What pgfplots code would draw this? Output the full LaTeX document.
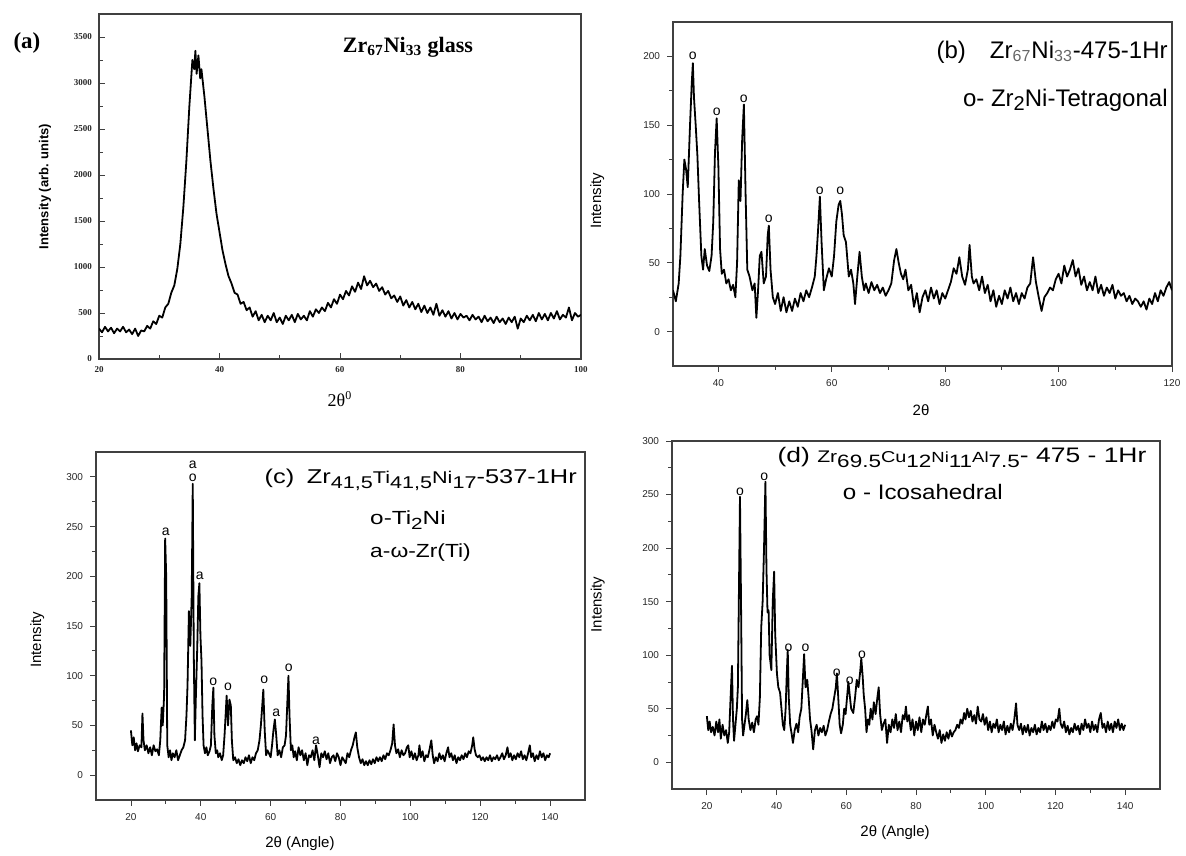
\documentclass[border=0pt]{standalone}
\usepackage{graphicx}
\usepackage{pgfplots}
\pgfplotsset{compat=1.18}
\usepackage{fontspec}
\setmainfont{Liberation Sans}
\newfontfamily\serif{Liberation Serif}

% lowered, slightly reduced index as used in the composition labels
\newcommand\lo[1]{\raisebox{-0.45ex}{\scalebox{0.85}{#1}}}
% wide-set caption text
\newcommand\wide[2]{\scalebox{#1}[1]{#2}}

\pgfplotsset{
  xrdpanel/.style={
    scale only axis,
    anchor=south west,
    axis line style={black!75, line width=0.6pt},
    tick style={black!75, line width=0.4pt},
    major tick length=3pt,
    minor tick length=1.8pt,
    tick align=outside,
    xtick pos=bottom, ytick pos=left,
    minor x tick num=1, minor y tick num=1,
    /pgf/number format/assume math mode=true,
    /pgf/number format/set thousands separator={},
    ticklabel style={font=\fontsize{5}{6}\selectfont, black!85},
    label style={font=\fontsize{7.5}{8}\selectfont},
    ylabel style={anchor=center},
    xlabel style={anchor=center},
  },
}
\tikzset{
  trace/.style={black, line width=0.9pt, line join=round},
  pk/.style={font=\fontsize{7}{7}\selectfont, inner sep=0pt, anchor=south},
}

\begin{document}
\begin{tikzpicture}
\useasboundingbox (0,0) rectangle (593pt,427.5pt);

%% (a) amorphous Zr67Ni33
\begin{axis}[xrdpanel,
  at={(49.5pt,248pt)}, width=241pt, height=172.5pt,
  xmin=20, xmax=100, ymin=0, ymax=3750,
  xtick={20,40,...,100}, ytick={0,500,...,3500},
  tick align=inside,
  ticklabel style={font=\serif\bfseries\fontsize{4.5}{5}\selectfont},
  ylabel={\bfseries\fontsize{6.5}{7}\selectfont Intensity (arb. units)},
  ylabel style={at={(axis description cs:-0.112,0.5)}},
  xlabel={\serif\fontsize{9}{10}\selectfont 2θ\textsuperscript{0}},
  xlabel style={at={(axis description cs:0.5,-0.116)}},
]
\addplot[trace] coordinates {
(20,330)(20.5,290)(21,350)(21.5,300)(22,340)(22.5,280)(23,330)(23.5,300)(24,350)(24.5,290)
(25,320)(25.5,270)(26,330)(26.5,250)(27,310)(27.5,300)(28,360)(28.5,330)(29,410)(29.5,380)
(30,470)(30.5,450)(31,560)(31.5,600)(32,720)(32.5,800)(33,980)(33.5,1250)(34,1650)(34.5,2150)
(35,2750)(35.5,3250)(35.8,3150)(36,3350)(36.2,3100)(36.5,3300)(36.8,3050)(37,3150)(37.5,2850)
(38,2500)(38.5,2150)(39,1850)(39.5,1580)(40,1380)(40.5,1180)(41,1030)(41.5,900)(42,820)
(42.5,720)(43,700)(43.5,600)(44,620)(44.5,530)(45,560)(45.5,460)(46,520)(46.5,420)(47,480)
(47.5,400)(48,470)(48.5,420)(49,500)(49.5,400)(50,450)(50.5,380)(51,470)(51.5,420)(52,480)
(52.5,400)(53,490)(53.5,430)(54,470)(54.5,420)(55,520)(55.5,460)(56,540)(56.5,500)(57,560)
(57.5,520)(58,610)(58.5,560)(59,650)(59.5,600)(60,700)(60.5,650)(61,740)(61.5,690)(62,790)
(62.5,730)(63,830)(63.5,760)(64,900)(64.5,800)(65,850)(65.5,780)(66,820)(66.5,740)(67,780)
(67.5,700)(68,740)(68.5,660)(69,690)(69.5,620)(70,680)(70.5,580)(71,640)(71.5,560)(72,620)
(72.5,540)(73,600)(73.5,510)(74,580)(74.5,500)(75,560)(75.5,480)(76,600)(76.5,470)(77,530)
(77.5,460)(78,520)(78.5,440)(79,500)(79.5,430)(80,490)(80.5,450)(81,470)(81.5,420)(82,480)
(82.5,430)(83,460)(83.5,400)(84,470)(84.5,410)(85,450)(85.5,390)(86,460)(86.5,400)(87,440)
(87.5,380)(88,450)(88.5,400)(89,460)(89.5,330)(90,440)(90.5,400)(91,470)(91.5,420)(92,480)
(92.5,410)(93,500)(93.5,430)(94,490)(94.5,420)(95,500)(95.5,440)(96,520)(96.5,430)(97,480)
(97.5,450)(98,560)(98.5,420)(99,500)(99.5,460)(100,480)
};
\node[font=\serif\bfseries\fontsize{11}{12}\selectfont] at (axis description cs:0.641,0.904)
  {Zr\textsubscript{67}Ni\textsubscript{33} glass};
\end{axis}
\node[font=\serif\bfseries\fontsize{11.5}{12}\selectfont] at (13.5pt,406pt) {(a)};

%% (b) Zr67Ni33 annealed 475, 1 h
\begin{axis}[xrdpanel,
  at={(336.5pt,244.5pt)}, width=249.5pt, height=172pt,
  xmin=32, xmax=120, ymin=-25, ymax=225,
  xtick={40,60,...,120}, ytick={0,50,...,200},
  ylabel={Intensity},
  ylabel style={at={(axis description cs:-0.152,0.48)}},
  xlabel={2θ},
  xlabel style={at={(axis description cs:0.497,-0.128)}},
]
\addplot[trace] coordinates {
(32,30)(32.5,22)(33,35)(33.3,55)(33.7,100)(34,125)(34.3,118)(34.6,105)(35,150)(35.3,180)
(35.5,195)(35.7,170)(36,150)(36.3,128)(36.6,95)(37,55)(37.3,45)(37.6,60)(38,48)(38.4,44)
(38.8,55)(39.1,80)(39.4,130)(39.7,155)(40,120)(40.3,60)(40.6,42)(41,45)(41.4,35)(41.8,38)
(42.2,30)(42.6,34)(43,25)(43.3,50)(43.6,110)(43.9,95)(44.2,140)(44.5,165)(44.8,100)(45.1,45)
(45.5,40)(46,30)(46.4,35)(46.7,10)(47,30)(47.3,55)(47.6,58)(48,35)(48.4,40)(48.7,70)
(48.9,77)(49.2,45)(49.6,25)(50,20)(50.5,28)(51,15)(51.5,25)(52,14)(52.5,22)(53,15)
(53.5,24)(54,18)(54.5,28)(55,22)(55.5,30)(56,25)(56.5,32)(57,40)(57.3,55)(57.6,75)
(57.9,98)(58.2,65)(58.6,30)(59,38)(59.5,46)(60,40)(60.4,55)(60.8,80)(61.2,92)(61.5,95)
(61.8,85)(62.1,70)(62.5,65)(63,40)(63.4,45)(63.8,35)(64.1,20)(64.5,40)(64.9,58)(65.3,40)
(65.7,30)(66,35)(66.5,28)(67,36)(67.5,30)(68,34)(68.5,28)(69,32)(69.5,26)(70,30)
(70.5,35)(71,52)(71.4,60)(71.8,50)(72.2,42)(72.6,38)(73,45)(73.5,30)(74,34)(74.5,18)
(75,28)(75.5,14)(76,25)(76.5,30)(77,22)(77.5,32)(78,24)(78.5,30)(79,20)(79.5,28)
(80,24)(80.5,30)(81,36)(81.5,46)(82,42)(82.5,54)(83,40)(83.5,34)(84,45)(84.3,63)
(84.7,40)(85,35)(85.5,38)(86,30)(86.5,40)(87,28)(87.5,34)(88,22)(88.5,30)(89,18)
(89.5,26)(90,20)(90.5,30)(91,24)(91.5,32)(92,22)(92.5,28)(93,20)(93.5,28)(94,24)
(94.5,32)(95,35)(95.5,54)(96,36)(96.5,25)(97,15)(97.5,25)(98,28)(98.5,32)(99,30)
(99.5,38)(100,42)(100.5,35)(101,48)(101.5,40)(102,45)(102.5,52)(103,40)(103.5,46)(104,34)
(104.5,40)(105,30)(105.5,36)(106,30)(106.5,40)(107,28)(107.5,34)(108,26)(108.5,32)(109,28)
(109.5,34)(110,24)(110.5,30)(111,26)(111.5,28)(112,22)(112.5,26)(113,20)(113.5,24)(114,22)
(114.5,18)(115,22)(115.5,16)(116,24)(116.5,20)(117,28)(117.5,22)(118,30)(118.5,26)(119,32)
(119.5,36)(120,30)
};
\node[pk] at (axis cs:35.5,197) {o};
\node[pk] at (axis cs:39.7,157) {o};
\node[pk] at (axis cs:44.5,166) {o};
\node[pk] at (axis cs:48.9,79) {o};
\node[pk] at (axis cs:57.9,99) {o};
\node[pk] at (axis cs:61.5,99) {o};
\node[font=\fontsize{12}{14}\selectfont, anchor=east, inner sep=0pt] at (axis description cs:0.992,0.913)
  {(b)\quad Zr\textsubscript{\color{black!60}67}Ni\textsubscript{\color{black!60}33}-475-1Hr};
\node[font=\fontsize{12}{14}\selectfont, anchor=east, inner sep=0pt] at (axis description cs:0.992,0.773)
  {o- Zr\raisebox{-0.35ex}{\fontsize{10}{10}\selectfont 2}Ni-Tetragonal};
\end{axis}

%% (c) Zr41.5Ti41.5Ni17 annealed 537, 1 h
\begin{axis}[xrdpanel,
  at={(48pt,27.5pt)}, width=244.5pt, height=174pt,
  xmin=10, xmax=150, ymin=-25, ymax=325,
  xtick={20,40,...,140}, ytick={0,50,...,300},
  ylabel={Intensity},
  ylabel style={at={(axis description cs:-0.12,0.46)}},
  xlabel={2θ (Angle)},
  xlabel style={at={(axis description cs:0.417,-0.124)}},
]
\addplot[trace] coordinates {
(20,45)(20.4,30)(20.8,38)(21.2,25)(21.6,32)(22,24)(22.5,30)(23,28)(23.3,62)(23.6,35)
(24,25)(24.5,30)(25,22)(25.5,28)(26,20)(26.5,30)(27,24)(27.5,26)(28,20)(28.4,35)
(28.8,68)(29.1,50)(29.5,80)(29.8,238)(30.1,200)(30.4,30)(30.8,18)(31.2,25)(31.6,15)(32,22)
(32.5,18)(33,25)(33.5,15)(34,20)(34.5,25)(35,28)(35.5,35)(35.9,60)(36.2,90)(36.6,165)
(37,130)(37.4,180)(37.7,293)(38,120)(38.3,35)(38.6,80)(39,130)(39.3,180)(39.6,193)(39.9,140)
(40.2,115)(40.5,60)(40.8,30)(41.2,22)(41.6,28)(42,20)(42.5,24)(42.9,30)(43.3,70)(43.6,88)
(43.9,40)(44.3,22)(44.7,25)(45,18)(45.5,22)(46,15)(46.4,20)(46.8,40)(47.1,60)(47.4,80)
(47.8,50)(48.2,76)(48.6,70)(48.9,35)(49.3,15)(49.8,18)(50.3,12)(50.8,16)(51.3,10)(51.8,15)
(52.3,12)(52.8,18)(53.3,14)(53.8,20)(54.3,12)(54.8,18)(55.3,15)(55.8,22)(56.3,25)(56.8,35)
(57.2,50)(57.6,70)(57.9,86)(58.3,45)(58.7,20)(59.1,25)(59.5,22)(60,18)(60.4,30)(60.8,45)
(61.2,56)(61.6,40)(62,20)(62.5,25)(63,18)(63.5,28)(64,30)(64.4,40)(64.8,75)(65.1,100)
(65.4,60)(65.8,25)(66.2,30)(66.6,18)(67,24)(67.5,15)(68,28)(68.5,20)(69,25)(69.5,15)
(70,22)(70.5,10)(71,20)(71.5,18)(72,25)(72.5,15)(73,30)(73.5,20)(74,8)(74.5,22)
(75,18)(75.5,24)(76,16)(76.5,22)(77,12)(77.5,18)(78,20)(78.5,14)(79,22)(79.5,18)
(80,10)(80.5,18)(81,15)(81.5,12)(82,22)(82.5,18)(83,25)(83.5,30)(84,38)(84.4,43)
(84.8,28)(85.3,18)(85.8,12)(86.3,16)(86.8,10)(87.3,14)(87.8,10)(88.3,15)(88.8,11)(89.3,16)
(89.8,12)(90.3,18)(90.8,14)(91.3,18)(91.8,14)(92.3,20)(92.8,16)(93.3,22)(93.8,20)(94.3,25)
(94.8,32)(95.2,51)(95.6,30)(96,22)(96.5,26)(97,18)(97.5,25)(98,20)(98.5,22)(99,28)
(99.4,30)(99.8,18)(100.3,24)(100.8,16)(101.3,22)(101.8,15)(102.3,20)(102.6,30)(103,18)(103.5,24)
(104,14)(104.5,20)(105,18)(105.5,26)(106,35)(106.4,20)(106.8,12)(107.3,18)(107.8,14)(108.3,22)
(108.8,16)(109.3,20)(109.8,14)(110.3,22)(110.8,28)(111.2,18)(111.7,22)(112.2,15)(112.7,20)(113.2,12)
(113.7,18)(114.2,15)(114.7,20)(115.2,16)(115.7,22)(116.2,18)(116.7,24)(117.2,22)(117.7,30)(118,38)
(118.4,26)(118.8,20)(119.3,18)(119.8,20)(120.3,15)(120.8,18)(121.3,14)(121.8,18)(122.3,15)(122.8,20)
(123.3,14)(123.8,18)(124.3,16)(124.8,20)(125.3,15)(125.8,18)(126.3,22)(126.8,16)(127.3,20)(127.8,28)
(128.2,18)(128.7,22)(129.2,15)(129.7,20)(130.2,16)(130.7,22)(131.2,18)(131.7,24)(132.2,16)(132.7,20)
(133.2,15)(133.7,22)(134.2,30)(134.6,18)(135.1,22)(135.6,14)(136.1,20)(136.6,16)(137.1,24)(137.6,18)
(138.1,22)(138.6,15)(139.1,20)(139.6,18)(140,22)
};
\node[pk] at (axis cs:30,240) {a};
\node[pk] at (axis cs:37.7,295) {o};
\node[pk] at (axis cs:37.7,308) {a};
\node[pk] at (axis cs:39.7,196) {a};
\node[pk] at (axis cs:43.6,90) {o};
\node[pk] at (axis cs:47.8,85) {o};
\node[pk] at (axis cs:58.2,92) {o};
\node[pk] at (axis cs:61.6,58) {a};
\node[pk] at (axis cs:65.2,104) {o};
\node[pk] at (axis cs:73,30) {a};
\node[font=\fontsize{10}{12}\selectfont, anchor=east, inner sep=0pt] at (axis description cs:0.984,0.92)
  {\wide{1.27}{(c)\enspace Zr\lo{41,5}\scalebox{0.85}{Ti}\lo{41,5}\scalebox{0.85}{Ni}\lo{17}-537-1Hr}};
\node[font=\fontsize{9.5}{11}\selectfont, anchor=west, inner sep=0pt] at (axis description cs:0.56,0.805)
  {\wide{1.28}{o-Ti\lo{2}Ni}};
\node[font=\fontsize{9.5}{11}\selectfont, anchor=west, inner sep=0pt] at (axis description cs:0.56,0.71)
  {\wide{1.2}{a-ω-Zr(Ti)}};
\end{axis}

%% (d) Zr69.5Cu12Ni11Al7.5 annealed 475, 1 h
\begin{axis}[xrdpanel,
  at={(336pt,33pt)}, width=244pt, height=174pt,
  xmin=10, xmax=150, ymin=-25, ymax=300,
  xtick={20,40,...,140}, ytick={0,50,...,300},
  ylabel={Intensity},
  ylabel style={at={(axis description cs:-0.152,0.53)}},
  xlabel={2θ (Angle)},
  xlabel style={at={(axis description cs:0.457,-0.124)}},
]
\addplot[trace] coordinates {
(20,43)(20.4,30)(20.8,38)(21.2,28)(21.7,33)(22.2,25)(22.7,38)(23.2,28)(23.6,40)(24,22)
(24.5,35)(25,25)(25.5,30)(26,18)(26.4,28)(26.8,60)(27.2,90)(27.5,40)(27.8,20)(28.2,35)
(28.6,50)(28.9,70)(29.2,160)(29.5,248)(29.8,150)(30.1,40)(30.4,25)(30.8,35)(31.2,45)(31.6,58)
(32,40)(32.5,30)(33,37)(33.5,28)(34,40)(34.4,43)(34.8,35)(35.2,60)(35.6,126)(36,150)
(36.4,200)(36.8,262)(37.1,180)(37.4,140)(37.7,142)(38,100)(38.5,86)(38.9,150)(39.3,178)(39.6,120)
(40.1,83)(40.5,70)(41,65)(41.4,50)(41.8,35)(42.2,30)(42.6,50)(42.9,80)(43.2,105)(43.5,60)
(43.9,35)(44.3,27)(44.7,18)(45.2,30)(45.7,36)(46.2,28)(46.6,42)(47.1,50)(47.5,75)(47.9,101)
(48.3,70)(48.8,77)(49.2,60)(49.6,40)(50,30)(50.5,12)(51,30)(51.5,35)(52,25)(52.5,32)
(53,28)(53.5,34)(54,25)(54.5,30)(55,38)(55.5,45)(56,50)(56.5,60)(57,70)(57.3,83)
(57.7,60)(58.1,35)(58.5,27)(59,35)(59.4,50)(59.8,45)(60.2,60)(60.6,75)(61,62)(61.4,50)
(62,46)(62.5,60)(63,77)(63.5,70)(64,85)(64.3,97)(64.7,80)(65,63)(65.4,50)(65.8,28)
(66.2,40)(66.6,35)(67,50)(67.5,40)(67.9,56)(68.4,45)(68.9,60)(69.3,70)(69.7,45)(70.2,30)
(70.7,36)(71.2,40)(71.7,18)(72.2,35)(72.7,28)(73.2,40)(73.7,32)(74.2,45)(74.7,30)(75.2,38)
(75.7,28)(76.2,44)(76.7,40)(77.1,52)(77.5,38)(78,44)(78.5,30)(79,40)(79.5,25)(80,38)
(80.5,30)(81,42)(81.5,28)(82,40)(82.5,35)(83,45)(83.4,52)(83.8,35)(84.3,40)(84.8,25)
(85.3,35)(85.8,28)(86.3,22)(86.8,30)(87.3,18)(87.8,26)(88.3,20)(88.8,28)(89.3,22)(89.8,30)
(90.3,24)(90.8,28)(91.3,30)(91.8,35)(92.3,32)(92.8,40)(93.3,36)(93.8,46)(94.2,40)(94.7,50)
(95.2,42)(95.7,48)(96.2,38)(96.7,44)(97.2,36)(97.7,52)(98.2,40)(98.7,38)(99.2,45)(99.7,35)
(100.2,42)(100.7,30)(101.2,38)(101.7,28)(102.2,36)(102.7,32)(103.2,40)(103.7,28)(104.2,35)(104.7,30)
(105.2,38)(105.7,26)(106.2,34)(106.7,28)(107.2,36)(107.7,30)(108.2,40)(108.7,55)(109.1,35)(109.6,30)
(110.1,36)(110.6,26)(111.1,34)(111.6,28)(112.1,35)(112.6,25)(113.1,32)(113.6,28)(114.1,35)(114.6,26)
(115.1,32)(115.6,28)(116.1,38)(116.6,30)(117.1,36)(117.6,28)(118.1,34)(118.6,30)(119.1,38)(119.6,32)
(120.1,40)(120.6,38)(121.1,50)(121.5,36)(122,32)(122.5,38)(123,28)(123.5,34)(124,26)(124.5,32)
(125,28)(125.5,36)(126,30)(126.5,34)(127,26)(127.5,36)(128,30)(128.5,40)(129,32)(129.5,36)
(130,28)(130.5,38)(131,30)(131.5,35)(132,28)(132.5,40)(133,46)(133.5,32)(134,36)(134.5,28)
(135,38)(135.5,30)(136,36)(136.5,28)(137,38)(137.5,32)(138,40)(138.5,30)(139,36)(139.5,30)
(140,35)
};
\node[pk] at (axis cs:29.5,249) {o};
\node[pk] at (axis cs:36.5,263) {o};
\node[pk] at (axis cs:43.4,103) {o};
\node[pk] at (axis cs:48.3,103) {o};
\node[pk] at (axis cs:57.3,80) {o};
\node[pk] at (axis cs:61,72) {o};
\node[pk] at (axis cs:64.5,96) {o};
\node[font=\fontsize{10.5}{12}\selectfont, anchor=east, inner sep=0pt] at (axis description cs:0.973,0.954)
  {\wide{1.26}{(d) \scalebox{0.8}{Zr}\lo{69.5}\scalebox{0.75}{Cu}\lo{12}\scalebox{0.7}{Ni}\lo{11}\scalebox{0.7}{Al}\lo{7.5}- 475 - 1Hr}};
\node[font=\fontsize{10.5}{12}\selectfont, inner sep=0pt] at (axis description cs:0.514,0.853)
  {\wide{1.15}{o - Icosahedral}};
\end{axis}
\end{tikzpicture}
\end{document}
